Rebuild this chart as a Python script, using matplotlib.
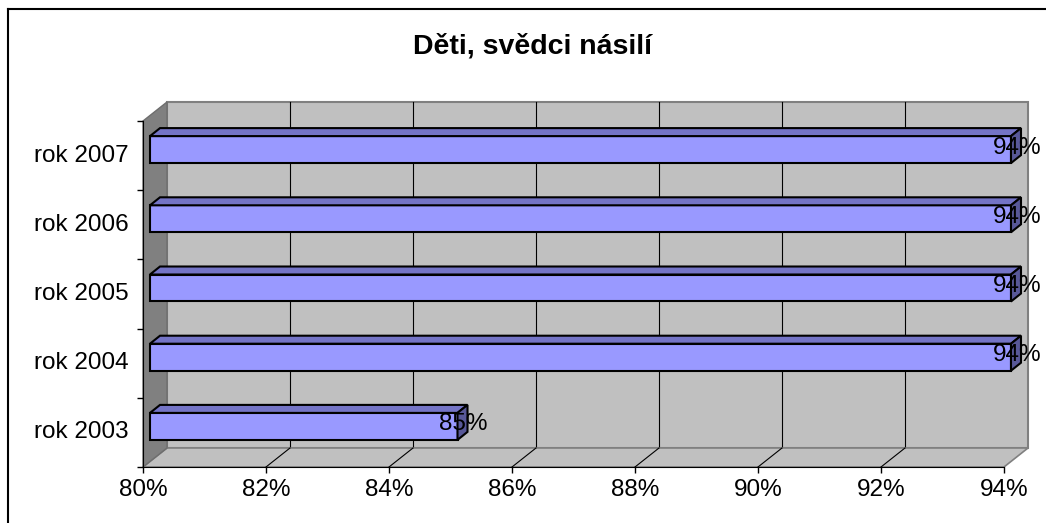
"""Excel-style 3D horizontal bar chart: Děti, svědci násilí."""

import matplotlib

matplotlib.use("Agg")
import matplotlib.pyplot as plt
import matplotlib.transforms as mtransforms
from matplotlib.patches import Polygon
from matplotlib.lines import Line2D

plt.rcParams["font.family"] = ["Liberation Sans", "DejaVu Sans"]

categories = ["rok 2003", "rok 2004", "rok 2005", "rok 2006", "rok 2007"]
values = [85, 94, 94, 94, 94]
value_labels = ["85%", "94%", "94%", "94%", "94%"]
x_ticks = [80, 82, 84, 86, 88, 90, 92, 94]
title = "Děti, svědci násilí"

W, H, DPI = 1046, 523, 100
fig = plt.figure(figsize=(W / DPI, H / DPI), dpi=DPI)

# front plane of the 3D box, in pixels from top-left
left, right, top, bottom = 143, 1004, 121, 467
ax = fig.add_axes([left / W, (H - bottom) / H, (right - left) / W, (bottom - top) / H])
ax.set_xlim(80, 94)
ax.set_ylim(-0.5, len(categories) - 0.5)
ax.patch.set_visible(False)
for side in ("top", "right"):
    ax.spines[side].set_visible(False)
ax.spines["left"].set_color("black")
ax.spines["bottom"].set_color("black")
ax.spines["left"].set_zorder(2)
ax.spines["bottom"].set_zorder(2)

ax.set_xticks(x_ticks)
ax.set_xticklabels([f"{t}%" for t in x_ticks], fontsize=17.5)
ax.tick_params(axis="x", length=4, width=1, pad=5, direction="out")

ax.set_yticks([i - 0.5 for i in range(len(categories) + 1)])
ax.set_yticklabels([])
ax.tick_params(axis="y", which="major", length=4, width=1, direction="out")
ax.set_yticks(range(len(categories)), minor=True)
ax.set_yticklabels(categories, minor=True, fontsize=17.5)
ax.tick_params(axis="y", which="minor", length=0, pad=10)
for lab in ax.get_yticklabels(minor=True):
    lab.set_transform(lab.get_transform() + mtransforms.ScaledTranslation(0, 2.5 / DPI, fig.dpi_scale_trans))

fig.canvas.draw()
ident = mtransforms.IdentityTransform()

# depth offset of the box (pixels, y up)
DX, DY = 24, 19


def pt(x, y, dx=0, dy=0):
    px, py = ax.transData.transform((x, y))
    return (px + dx, py + dy)


x0, x1 = ax.get_xlim()
y0, y1 = ax.get_ylim()

# back wall
ax.add_patch(Polygon([pt(x0, y0, DX, DY), pt(x1, y0, DX, DY), pt(x1, y1, DX, DY), pt(x0, y1, DX, DY)],
                     closed=True, transform=ident, facecolor="#C0C0C0", edgecolor="#808080",
                     lw=1.5, zorder=0.1, clip_on=False))
for t in x_ticks[1:-1]:
    ax.add_line(Line2D(*zip(pt(t, y0, DX, DY), pt(t, y1, DX, DY)), transform=ident,
                       color="black", lw=0.8, zorder=0.2, clip_on=False))

# floor
ax.add_patch(Polygon([pt(x0, y0), pt(x1, y0), pt(x1, y0, DX, DY), pt(x0, y0, DX, DY)],
                     closed=True, transform=ident, facecolor="#C0C0C0", edgecolor="#808080",
                     lw=1.2, zorder=0.3, clip_on=False))
for t in x_ticks[1:-1]:
    ax.add_line(Line2D(*zip(pt(t, y0), pt(t, y0, DX, DY)), transform=ident,
                       color="black", lw=0.8, zorder=0.4, clip_on=False))

# left wall
ax.add_patch(Polygon([pt(x0, y0), pt(x0, y1), pt(x0, y1, DX, DY), pt(x0, y0, DX, DY)],
                     closed=True, transform=ident, facecolor="#808080", edgecolor="#6E6E6E",
                     lw=1.0, zorder=0.5, clip_on=False))

# bars
BX, BY = 7, 6        # front face offset into depth
TX, TY = 10, 8       # bar depth
bar_h = 0.39
for i, v in enumerate(values):
    yb, yt = i - bar_h / 2, i + bar_h / 2
    front = [pt(x0, yb, BX, BY), pt(v, yb, BX, BY), pt(v, yt, BX, BY), pt(x0, yt, BX, BY)]
    topf = [pt(x0, yt, BX, BY), pt(v, yt, BX, BY), pt(v, yt, BX + TX, BY + TY), pt(x0, yt, BX + TX, BY + TY)]
    sidef = [pt(v, yb, BX, BY), pt(v, yb, BX + TX, BY + TY), pt(v, yt, BX + TX, BY + TY), pt(v, yt, BX, BY)]
    ax.add_patch(Polygon(front, closed=True, transform=ident, facecolor="#9999FF",
                         edgecolor="black", lw=1.5, zorder=3, clip_on=False))
    ax.add_patch(Polygon(topf, closed=True, transform=ident, facecolor="#7474C6",
                         edgecolor="black", lw=1.5, zorder=3, clip_on=False))
    ax.add_patch(Polygon(sidef, closed=True, transform=ident, facecolor="#585898",
                         edgecolor="black", lw=1.5, zorder=3.5, clip_on=False))
    lx, ly = pt(v, i, 13, 8)
    ax.text(lx, ly, value_labels[i], transform=ident, ha="center", va="center",
            fontsize=17.5, color="black", zorder=4)

fig.text(533 / W, 1 - 46 / H, title, ha="center", va="center", fontsize=20.5, fontweight="bold")

# chart border (left and top edges visible)
fig.add_artist(Line2D([7.5 / W, 7.5 / W], [0, 1 - 8.5 / H], transform=fig.transFigure, color="black", lw=1.5))
fig.add_artist(Line2D([7.5 / W, 1], [1 - 8.5 / H, 1 - 8.5 / H], transform=fig.transFigure, color="black", lw=1.5))

fig.savefig("out.png", dpi=DPI)
plt.close(fig)
